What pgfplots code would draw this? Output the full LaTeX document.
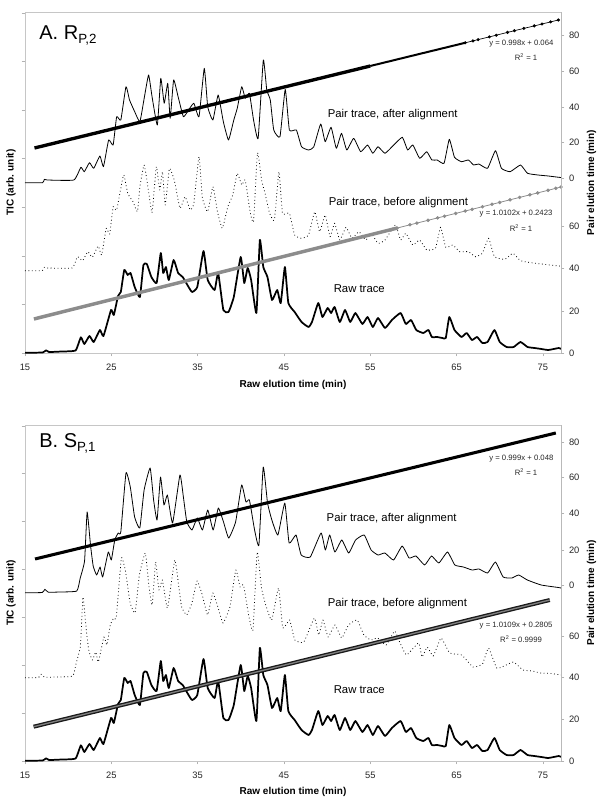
\documentclass[border=0pt]{standalone}
\usepackage{pgfplots}
\pgfplotsset{compat=1.18}
\usepackage{pgfplotstable}
\usepackage{fontspec}
\setmainfont{Liberation Sans}

% Raw trace (time in min, height in drawing units)
\pgfplotstableread{
t h
15.02 0.3
17.04 0.5
17.44 2.7
17.8 1.0
19.25 1.5
20.86 2.5
21.47 15.7
21.87 9
22.47 17
22.96 11
23.68 23
24.09 17
24.97 43
25.29 38
25.78 57
26.10 61
26.50 83
26.90 78
27.23 80
27.71 66
28.31 56
28.72 88
29.12 89
29.64 76
30.25 70
30.73 100
31.01 80
31.33 86
31.66 73
32.22 93
32.74 80
33.27 76
33.95 66
34.36 61
34.96 66
35.68 102
36.17 73
36.97 63
37.38 80
37.98 43
38.58 41
39.19 56
39.99 96
40.40 70
40.80 85
41.20 73
41.81 40
42.21 113
42.61 86
43.09 76
43.62 53
44.22 63
44.63 50
45.11 86
45.51 50
46.24 41
47.04 31
47.85 26
48.25 31
48.98 50
49.46 36
50.06 45
50.47 40
50.87 46
51.47 31
52.08 43
52.68 31
53.28 40
54.09 29
54.69 36
55.30 26
55.90 35
56.71 25
57.51 33
58.52 40
59.12 29
59.73 33
60.33 23
61.14 20
61.74 23
62.14 16
62.75 16
63.35 15
63.75 15
64.16 36
64.76 23
65.57 16
66.17 20
66.78 13
67.38 16
67.98 10
68.59 11
69.39 23
70.00 11
70.80 6
71.61 6
72.41 11
73.22 6
74.02 5
74.83 4
75.64 3
76.84 5
77.1 4
}\rawtrace

\pgfplotstableread{
t h
15.0 170.3
17.04 170.3
17.24 173.7
17.6 173
20.66 173
21.47 185.7
21.87 181.3
22.47 190.3
22.96 184.7
23.68 197
24.09 186.3
24.69 213
25.21 208
25.62 236.3
26.10 233
26.70 266.3
27.11 253
27.71 241.3
28.31 231.3
28.84 256.3
29.32 278
29.72 256.3
30.33 228
30.73 274.7
31.13 249.7
31.54 269.7
31.82 234.7
32.22 273
32.74 256.3
33.35 236.3
33.95 243
34.56 249.7
35.16 236.3
35.77 284.7
36.17 246.3
36.77 233
37.38 258
37.98 231.3
38.58 213
39.19 233
39.59 244.7
40.11 266.3
40.52 254.7
41.00 259.7
41.48 233
42.01 214.7
42.61 293
43.01 263
43.42 253
43.82 223
44.54 216.3
45.15 263.7
45.63 223
46.44 223
47.04 206.3
47.85 203
48.45 206
49.26 229
49.78 211.3
50.46 225.7
51.07 204.7
51.67 219.7
52.28 203
53.08 214.7
53.89 201.3
54.69 208
55.30 199.7
55.90 206.3
56.71 199.7
57.72 208
58.72 215.7
59.33 203
59.93 208
60.73 194.7
61.54 201.3
62.14 193
62.75 193
63.55 189.7
64.16 213.7
64.76 195.7
65.57 191.3
66.37 193
66.98 188
67.58 189
68.59 184.7
69.51 202.3
70.20 184.7
71.21 181.3
72.41 188
73.22 179.7
74.43 178
75.64 177
76.84 175.7
77.1 175.5
}\Aafter

\pgfplotstableread{
t h
15.0 82.3
17.0 82.3
17.24 85.7
17.6 85
20.46 85
21.07 96.3
21.67 92.3
22.27 101.3
22.80 95.7
23.48 107
23.88 98
24.41 124.7
24.81 119
25.21 146.3
25.62 143
26.42 178
26.90 159.7
27.51 151.3
28.03 141.3
28.31 166.3
28.80 188
29.24 166.3
29.72 140.3
30.21 186.3
30.61 163
30.93 181.3
31.25 148
31.74 184.7
32.34 171.3
32.95 144.7
33.55 156.3
34.15 143
34.56 149.7
35.16 196.3
35.56 154.7
36.17 141.3
36.77 166.3
37.30 141.3
37.86 124.7
38.50 146.3
39.07 158
39.59 179.7
40.11 168
40.52 173
41.08 141.3
41.48 131.3
41.93 200.3
42.41 173
42.81 159.7
43.34 139.7
43.90 133
44.42 181.3
44.83 139.7
45.63 139.7
46.24 118
47.04 114.7
47.85 118
48.57 141.3
49.14 121.3
49.78 138
50.34 116.3
50.87 129.7
51.47 113
52.20 125.7
52.88 114.7
53.69 121.3
54.49 113
55.10 119.7
55.90 109.7
56.71 113
57.92 128
58.52 113
59.12 119.7
59.93 108
60.73 113
61.54 103
62.55 104.7
63.15 125.7
63.75 105.7
64.56 108
65.37 101.3
66.37 101.3
67.18 96.3
67.98 99.7
68.71 114.7
69.39 96.3
70.60 93.7
71.53 99.7
72.41 92.3
73.62 90.3
74.83 89
76.84 87
77.1 86.8
}\Abefore

\pgfplotstableread{
t h
15.0 168.3
17.0 168.5
17.3 171.7
17.7 168.8
19.0 169
21.0 170
21.4 183
21.9 200
22.2 249
22.6 215
22.9 195
23.3 186
23.7 194
24.0 184
24.65 209
25.0 201
25.4 221
25.8 228
26.1 229
26.7 288
27.2 274
27.7 244
28.3 233
28.8 271
29.5 293
29.9 261
30.3 241
30.7 284
31.1 256
31.5 266
32.1 238
32.95 286
33.35 264
33.75 239
34.35 231
34.96 243
35.56 231
36.17 251
36.8 231
37.4 253
38.0 239
38.6 223
39.4 239
40.1 276
40.6 259
41.0 261
41.6 231
42.1 216
42.6 294
43.1 258
43.6 241
44.3 226
45.1 258
45.6 218
46.4 226
47.0 206
48.05 204
49.3 228
49.8 211
50.3 226
50.9 209
51.7 221
52.5 208
53.3 221
54.3 226
55.1 211
55.9 206
56.7 208
57.7 201
58.7 215
59.5 203
60.3 205
61.3 196
62.1 205
62.95 198
63.95 209
64.8 196
65.8 194
66.8 191
67.6 192
68.6 188
69.5 199
70.4 184
71.4 183
72.2 186
73.2 181
74.8 176
76.8 173.5
77.1 173
}\Bafter

\pgfplotstableread{
t h
15.0 83.3
16.57 83.5
16.87 86.7
17.26 83.8
18.55 84
20.53 85
20.93 98
21.42 115
21.72 164
22.11 130
22.41 110
22.81 101
23.20 109
23.50 99
24.14 124
24.49 116
24.88 136
25.28 143
25.58 144
26.17 203
26.66 189
27.16 159
27.75 148
28.25 186
28.94 208
29.34 176
29.73 156
30.13 199
30.52 171
30.92 181
31.51 153
32.35 201
32.75 179
33.15 154
33.74 146
34.34 158
34.94 180
35.54 166
36.16 146
36.76 168
37.35 154
37.94 138
38.74 154
39.43 191
39.92 174
40.32 176
40.91 146
41.41 131
41.90 209
42.40 173
42.89 156
43.58 141
44.38 173
44.87 133
45.66 141
46.26 121
47.30 119
48.53 143
49.03 126
49.52 141
50.12 124
50.91 136
51.70 123
52.49 136
53.48 141
54.27 126
55.06 121
55.86 123
56.84 116
57.83 130
58.45 118
59.2 106
60.6 118
61.0 104
61.6 114
62.3 105
63.2 123
64.2 108
65.6 106
66.9 94
68.0 97
68.7 113
69.65 93
70.5 95
71.6 99
72.7 91
73.8 90
74.7 88
76.0 87.5
77.1 86
}\Bbefore

\pgfplotsset{
  panel/.style={
    scale only axis, width=402pt, xmin=15, xmax=77.1, ymin=0, clip=false,
    axis line style={gray!45}, tick style={gray!60},
    tick align=outside, major tick length=2.5pt,
    xtick={15,25,...,75}, xtick pos=bottom, ytick pos=left, yticklabels={},
    ticklabel style={font=\fontsize{7}{8}\selectfont, text=black!85},
    xticklabel style={yshift=-2pt},
    /pgf/number format/assume math mode=true,
    xlabel={Raw elution time (min)},
    xlabel style={font=\bfseries\fontsize{7.5}{9}\selectfont, anchor=center},
    ylabel={TIC (arb. unit)},
    ylabel style={font=\bfseries\fontsize{7.5}{9}\selectfont,
      at={(axis description cs:-0.026,0.5)}, anchor=center},
  },
  rightax/.style={
    scale only axis, width=402pt, xmin=15, xmax=77.1, ymin=0,
    axis x line=none, axis y line*=right,
    axis line style={gray!55}, tick style={gray!60},
    tick align=outside, major tick length=2.5pt,
    ticklabel style={font=\fontsize{7}{8}\selectfont, text=black!85},
    /pgf/number format/assume math mode=true,
    ylabel={Pair elution time (min)},
    ylabel style={font=\bfseries\fontsize{7.5}{9}\selectfont,
      at={(axis description cs:1.057,0.5)}, anchor=center},
  },
  rawst/.style={black, line width=1.3pt, line join=round, smooth, tension=0.25},
  aftst/.style={black, line width=0.6pt, line join=round, smooth, tension=0.25},
  befst/.style={black, line width=0.6pt, dotted, line join=round, smooth, tension=0.25},
}
\newcommand{\annfont}{\fontsize{8.5}{10}\selectfont}
\newcommand{\eqfont}{\fontsize{5.8}{7}\selectfont}

\begin{document}
\begin{tikzpicture}
\useasboundingbox (0,0) rectangle (450pt,-604.5pt);

% ---------------- Panel A ----------------
\begin{axis}[panel, at={(18.75pt,-264.75pt)}, anchor=south west,
  height=255.75pt, ymax=341,
  ytick={0,48.6,97.2,145.8,194.4,243,291.6,340.2},
  xlabel style={at={(axis description cs:0.5,-0.094)}}]
\addplot[rawst] table {\rawtrace};
\addplot[befst] table {\Abefore};
\addplot[aftst] table {\Aafter};
% regression line, after alignment
\addplot[black, line width=2.5pt] coordinates {(16.1,205.0) (30,234.3) (45,265.9) (55,287.0)};
\addplot[black, line width=1.5pt] coordinates {(55,287.0) (60.3,298.2) (66.0,310.2)};
\addplot[black, line width=0.5pt, mark=*, mark size=0.9pt] coordinates {(66.0,310.2) (66.9,312.1) (67.5,313.4) (68.8,316.1) (69.6,317.8) (70.9,320.6) (71.7,322.3) (72.8,324.6) (74.0,327.1) (74.9,329.0) (75.9,331.1) (76.8,333.0)};
% regression line, before alignment
\addplot[black!45, line width=2.6pt] coordinates {(16.03,34.0) (30,64.2) (45,96.6) (58.1,124.9)};
\addplot[black!45, line width=0.6pt, mark=*, mark size=1.0pt] coordinates {(58.1,124.9) (59.6,128.2) (60.4,129.9) (61.7,132.7) (62.8,135.1) (63.6,136.8) (64.9,139.6) (66.0,142.0) (66.8,143.7) (68.0,146.3) (69.1,148.7) (70.0,150.6) (71.2,153.2) (72.3,155.6) (73.5,158.2) (74.4,160.1) (75.6,162.7) (76.5,164.7) (77.1,166.0)};
% texts
\node[anchor=west, font=\fontsize{15}{17}\selectfont] at (axis description cs:0.018,0.932) {A. R\raisebox{-0.35ex}{\fontsize{10}{12}\selectfont P,2}};
\node[anchor=west, font=\annfont] at (axis cs:49.53,238) {Pair trace, after alignment};
\node[anchor=west, font=\annfont] at (axis cs:49.65,150) {Pair trace, before alignment};
\node[anchor=west, font=\annfont] at (axis cs:50.23,64) {Raw trace};
\node[anchor=east, font=\eqfont, text=black!85] at (axis cs:76.76,309) {y = 0.998x + 0.064};
\node[font=\eqfont, text=black!85] at (axis cs:73.05,296) {R\textsuperscript{2} = 1};
\node[anchor=east, font=\eqfont, text=black!85] at (axis cs:76.65,139) {y = 1.0102x + 0.2423};
\node[font=\eqfont, text=black!85] at (axis cs:72.47,125) {R\textsuperscript{2} = 1};
\end{axis}
\begin{axis}[rightax, at={(18.75pt,-264.75pt)}, anchor=south west,
  height=255.75pt, ymax=341,
  ytick={0,42,85,127,175,211,246,282,318},
  yticklabels={0,20,40,60,0,20,40,60,80}]
\end{axis}

% ---------------- Panel B ----------------
\begin{axis}[panel, at={(18.75pt,-570.75pt)}, anchor=south west,
  height=252pt, ymax=336,
  ytick={0,47.9,95.8,143.7,191.6,239.5,287.4,335.3},
  xlabel style={at={(axis description cs:0.5,-0.092)}}]
\addplot[rawst] table {\rawtrace};
\addplot[befst] table {\Bbefore};
\addplot[aftst] table {\Bafter};
\addplot[black, line width=2.3pt] coordinates {(16.16,202) (40,251.8) (60,293.5) (76.5,328.0)};
\addplot[black!90, line width=3pt] coordinates {(16.0,34.3) (40,85.2) (60,127.5) (75.8,161.0)};
\addplot[black!50, line width=1.0pt] coordinates {(16.0,34.3) (40,85.2) (60,127.5) (75.8,161.0)};
\node[anchor=west, font=\fontsize{15}{17}\selectfont] at (axis description cs:0.018,0.945) {B. S\raisebox{-0.35ex}{\fontsize{10}{12}\selectfont P,1}};
\node[anchor=west, font=\annfont] at (axis cs:49.41,242) {Pair trace, after alignment};
\node[anchor=west, font=\annfont] at (axis cs:49.53,157) {Pair trace, before alignment};
\node[anchor=west, font=\annfont] at (axis cs:50.23,71) {Raw trace};
\node[anchor=east, font=\eqfont, text=black!85] at (axis cs:76.76,302) {y = 0.999x + 0.048};
\node[font=\eqfont, text=black!85] at (axis cs:73.05,289) {R\textsuperscript{2} = 1};
\node[anchor=east, font=\eqfont, text=black!85] at (axis cs:76.65,135) {y = 1.0109x + 0.2805};
\node[font=\eqfont, text=black!85] at (axis cs:72.47,122) {R\textsuperscript{2} = 0.9999};
\end{axis}
\begin{axis}[rightax, at={(18.75pt,-570.75pt)}, anchor=south west,
  height=252pt, ymax=336,
  ytick={0,42,84,125,176,211,248,284,319},
  yticklabels={0,20,40,60,0,20,40,60,80}]
\end{axis}
\end{tikzpicture}
\end{document}
